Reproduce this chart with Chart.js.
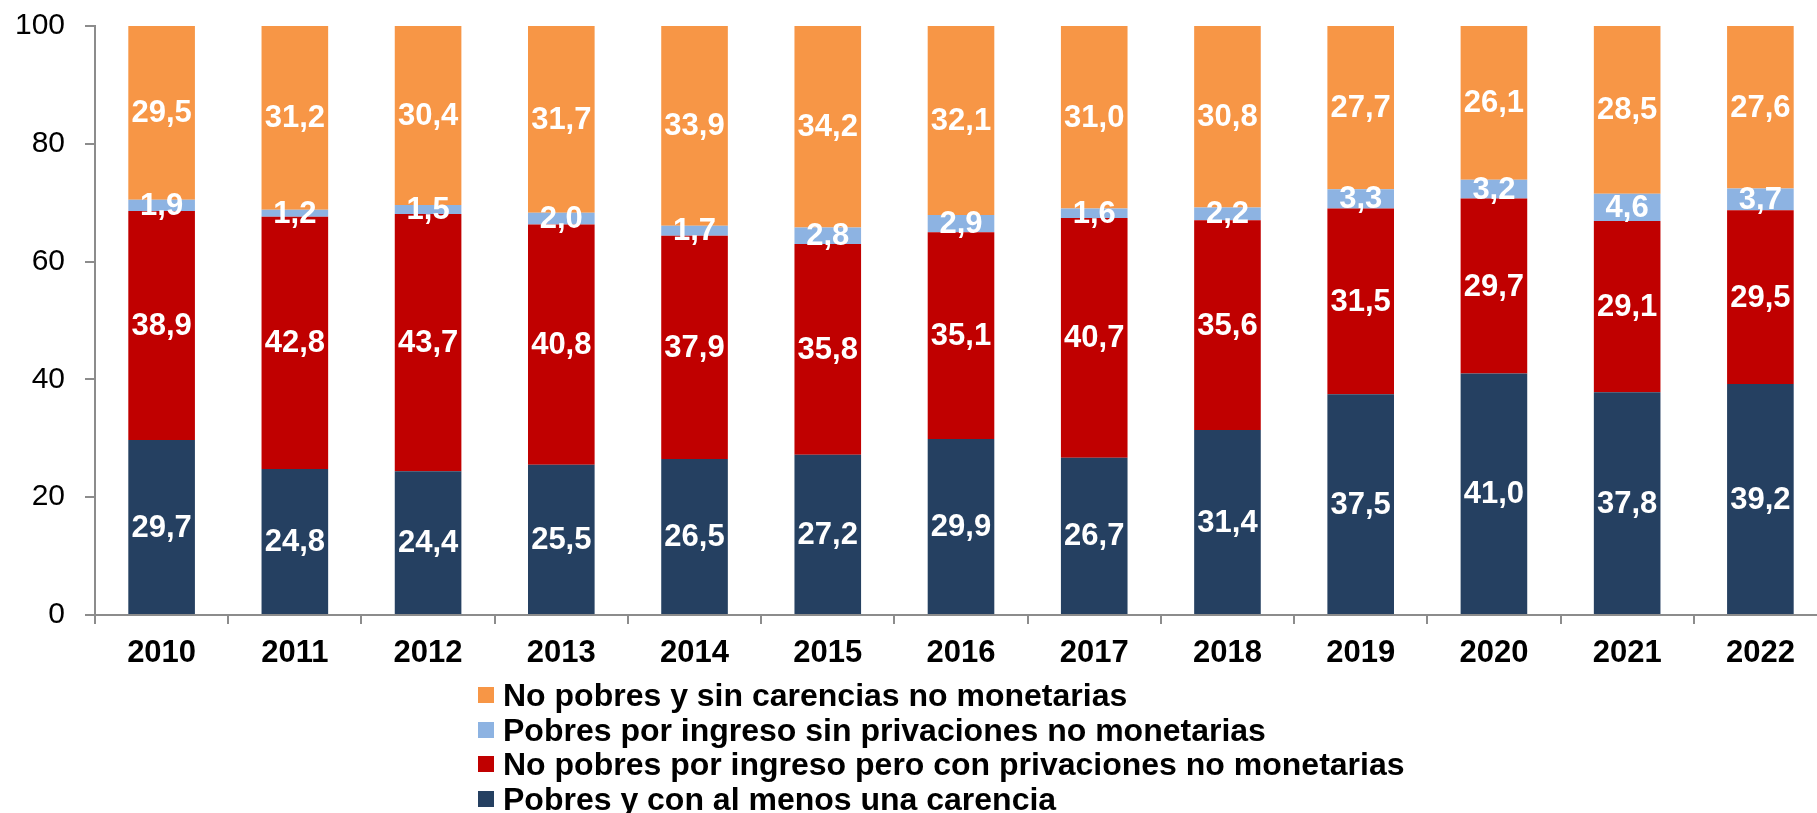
<!DOCTYPE html>
<html>
<head>
<meta charset="utf-8">
<script src="https://cdn.jsdelivr.net/npm/chart.js@4.4.0/dist/chart.umd.min.js"></script>
<style>
  html, body { margin: 0; padding: 0; background: #fff; overflow: hidden; }
  #wrap { position: relative; width: 1830px; height: 813px; }
  #myChart { position: absolute; left: 0; top: 0; }
  #leyenda { position: absolute; left: 478px; top: 678px; font-family: "Liberation Sans", Arial, sans-serif;
             font-weight: bold; font-size: 32px; color: #000; }
  #leyenda div { height: 34.5px; line-height: 34.5px; white-space: nowrap; display: flex; align-items: center; }
  #leyenda span.cuadro { display: inline-block; width: 16px; height: 16px; margin-right: 9px; }
</style>
</head>
<body>
<div id="wrap">
  <canvas id="myChart" width="1830" height="813"></canvas>
  <div id="leyenda"></div>
</div>
<script>
// años
var anios = ['2010', '2011', '2012', '2013', '2014', '2015', '2016', '2017', '2018', '2019', '2020', '2021', '2022'];

// series (de abajo hacia arriba en la barra)
var pobresConCarencia = [29.7, 24.8, 24.4, 25.5, 26.5, 27.2, 29.9, 26.7, 31.4, 37.5, 41.0, 37.8, 39.2];
var noPobresConPrivaciones = [38.9, 42.8, 43.7, 40.8, 37.9, 35.8, 35.1, 40.7, 35.6, 31.5, 29.7, 29.1, 29.5];
var pobresSinPrivaciones = [1.9, 1.2, 1.5, 2.0, 1.7, 2.8, 2.9, 1.6, 2.2, 3.3, 3.2, 4.6, 3.7];
var noPobresSinCarencias = [29.5, 31.2, 30.4, 31.7, 33.9, 34.2, 32.1, 31.0, 30.8, 27.7, 26.1, 28.5, 27.6];

var ticksY = [0, 20, 40, 60, 80, 100];

var fuente = '"Liberation Sans", Arial, sans-serif';
var gris = '#8c8c8c';

// etiquetas blancas en el centro de cada segmento
var etiquetas = {
    id: 'etiquetas',
    afterDatasetsDraw: function(chart) {
        var ctx = chart.ctx;
        ctx.save();
        ctx.fillStyle = '#fff';
        ctx.font = 'bold 31px ' + fuente;
        ctx.textAlign = 'center';
        ctx.textBaseline = 'middle';
        chart.data.datasets.forEach(function(ds, i) {
            var meta = chart.getDatasetMeta(i);
            meta.data.forEach(function(bar, j) {
                var txt = ds.data[j].toFixed(1).replace('.', ',');
                ctx.fillText(txt, bar.x, (bar.y + bar.base) / 2 + 1);
            });
        });
        ctx.restore();
    }
};

var ctx = document.getElementById('myChart').getContext('2d');
var chart = new Chart(ctx, {
    type: 'bar',
    data: {
        labels: anios,
        datasets: [
            { label: 'Pobres y con al menos una carencia', data: pobresConCarencia, backgroundColor: '#254061' },
            { label: 'No pobres por ingreso pero con privaciones no monetarias', data: noPobresConPrivaciones, backgroundColor: '#C00000' },
            { label: 'Pobres por ingreso sin privaciones no monetarias', data: pobresSinPrivaciones, backgroundColor: '#8DB3E2' },
            { label: 'No pobres y sin carencias no monetarias', data: noPobresSinCarencias, backgroundColor: '#F79646' }
        ]
    },
    options: {
        responsive: false,
        animation: false,
        layout: { padding: { top: 26, right: 3, bottom: 128, left: 0 } },
        datasets: { bar: { barPercentage: 0.5, categoryPercentage: 1.0 } },
        plugins: {
            legend: { display: false },
            tooltip: { enabled: false }
        },
        scales: {
            x: {
                stacked: true,
                grid: { display: true, drawOnChartArea: false, drawTicks: true, tickLength: 9, color: gris, lineWidth: 2, offset: true },
                border: { display: true, color: gris, width: 2 },
                ticks: { color: '#000', font: { family: fuente, size: 31, weight: 'bold' }, padding: 11, maxRotation: 0 },
                afterFit: function(scale) {
                    scale.height = 70;
                    scale.paddingLeft = 0;
                    scale.paddingRight = 0;
                }
            },
            y: {
                stacked: true,
                min: 0,
                max: 100,
                afterBuildTicks: function(scale) { scale.ticks = ticksY.map(function(v) { return { value: v }; }); },
                grid: { display: true, drawOnChartArea: false, drawTicks: true, tickLength: 10, color: gris, lineWidth: 2 },
                border: { display: true, color: gris, width: 2 },
                ticks: { color: '#000', font: { family: fuente, size: 30 }, padding: 20 },
                afterFit: function(scale) {
                    scale.width = 95;
                    scale.paddingTop = 0;
                    scale.paddingBottom = 0;
                }
            }
        }
    },
    plugins: [etiquetas]
});

// leyenda en orden inverso (como en el original)
var items = chart.options.plugins.legend.labels.generateLabels(chart).slice().reverse();
var cont = document.getElementById('leyenda');
items.forEach(function(it) {
    var fila = document.createElement('div');
    var c = document.createElement('span');
    c.className = 'cuadro';
    c.style.background = it.fillStyle;
    fila.appendChild(c);
    fila.appendChild(document.createTextNode(it.text));
    cont.appendChild(fila);
});
</script>
</body>
</html>
